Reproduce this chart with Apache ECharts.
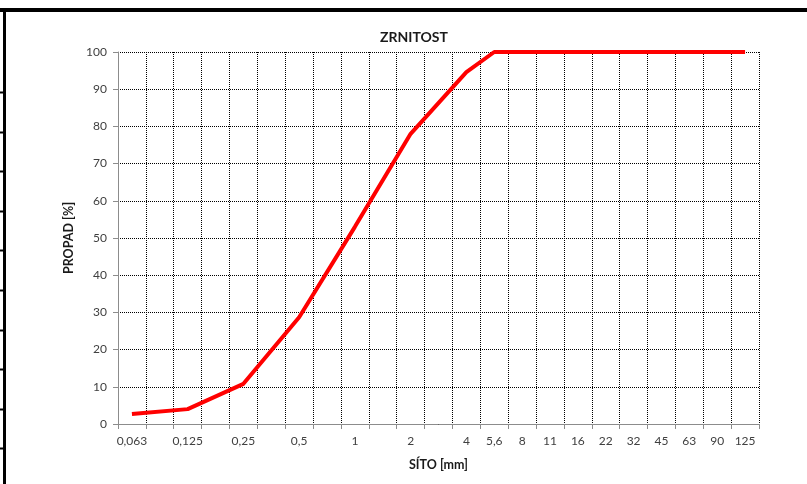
<!DOCTYPE html>
<html>
<head>
<meta charset="utf-8">
<script src="https://cdn.jsdelivr.net/npm/echarts@6/dist/echarts.min.js"></script>
<style>
html,body{margin:0;padding:0;background:#fff;}
#c{width:807px;height:484px;}
</style>
</head>
<body>
<div id="c"></div>
<script>
// sieve sizes (categories) and which ones carry a label
var sieves = ['0,063','0,09','0,125','0,18','0,25','0,355','0,5','0,71','1','1,4','2','2,8','4','5,6','8','11','16','22','32','45','63','90','125'];
var labeledSieves = ['0,063','0,125','0,25','0,5','1','2','4','5,6','8','11','16','22','32','45','63','90','125'];
// passing percentage (null = not measured on that sieve)
var passing = [2.7, null, 4.0, null, 10.8, null, 28.7, null, 53, null, 78, null, 94.6, 100, 100, 100, 100, 100, 100, 100, 100, 100, 100];
var yTicks = {min: 0, max: 100, interval: 10};

var font = 'Lato, "Open Sans", sans-serif';
var chart = echarts.init(document.getElementById('c'));
var rowTicks = [];
for (var i = 0; i < 10; i++) {
  var yy = Math.round(92 + i * 39.6) + 0.5;
  rowTicks.push({type: 'line', silent: true, shape: {x1: 0, y1: yy, x2: 4, y2: yy}, style: {stroke: '#000', lineWidth: 2}});
}
chart.setOption({
  backgroundColor: '#fff',
  animation: false,
  title: {
    text: 'ZRNITOST', left: 375, top: 25,
    textStyle: {fontFamily: font, fontSize: 14, fontWeight: 'bold', color: '#1a1a1a'}
  },
  graphic: [
    {type: 'rect', silent: true, shape: {x: 0, y: 8, width: 807, height: 4}, style: {fill: '#000'}},
    {type: 'rect', silent: true, shape: {x: 3, y: 8, width: 3, height: 476}, style: {fill: '#000'}}
  ].concat(rowTicks),
  grid: {left: 118, right: 48, top: 52, bottom: 60},
  xAxis: {
    type: 'category',
    data: sieves,
    boundaryGap: true,
    name: 'SÍTO [mm]',
    nameLocation: 'middle',
    nameGap: 34,
    nameTextStyle: {fontFamily: font, fontSize: 12.5, fontWeight: 'bold', color: '#1a1a1a'},
    axisLine: {lineStyle: {color: '#8c8c8c', width: 1}},
    axisTick: {show: true, interval: 0, length: 5, lineStyle: {color: '#8c8c8c'}},
    axisLabel: {
      interval: 0, margin: 11, color: '#404040', fontFamily: font, fontSize: 12,
      formatter: function (v) { return labeledSieves.indexOf(v) >= 0 ? v : ''; }
    },
    splitLine: {show: true, interval: 0, lineStyle: {color: '#000', type: [1, 1], width: 1}}
  },
  yAxis: {
    type: 'value',
    min: yTicks.min, max: yTicks.max, interval: yTicks.interval,
    name: 'PROPAD [%]',
    nameLocation: 'middle',
    nameGap: 37,
    nameRotate: 90,
    nameTextStyle: {fontFamily: font, fontSize: 12.5, fontWeight: 'bold', color: '#1a1a1a'},
    axisLine: {show: true, lineStyle: {color: '#8c8c8c', width: 1}},
    axisTick: {show: true, length: 5, lineStyle: {color: '#8c8c8c'}},
    axisLabel: {margin: 11, color: '#404040', fontFamily: font, fontSize: 12},
    splitLine: {show: true, lineStyle: {color: '#000', type: [1, 1], width: 1}}
  },
  series: [{
    type: 'line',
    data: passing,
    connectNulls: true,
    showSymbol: false,
    symbol: 'none',
    lineStyle: {color: '#ff0000', width: 4},
    itemStyle: {color: '#ff0000'}
  }]
});
</script>
</body>
</html>
